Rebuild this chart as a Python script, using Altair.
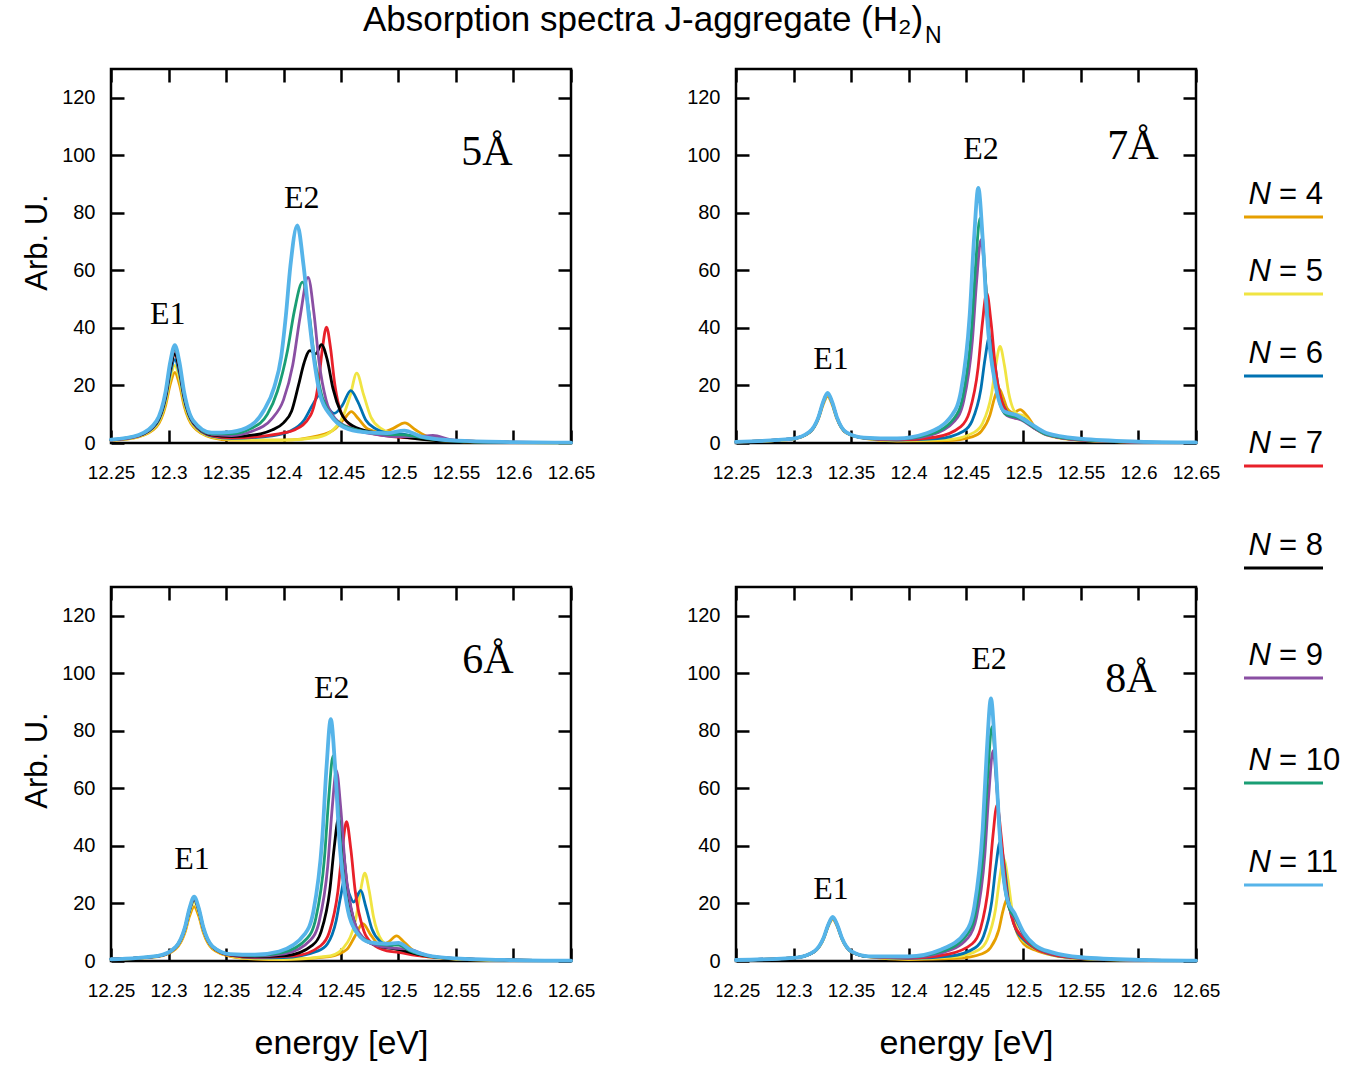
import altair as alt
import pandas as pd

SANS = "Liberation Sans"
SERIF = "Liberation Serif"

TITLE = "Absorption spectra J-aggregate (H\u2082)"
TITLE_SUB = "N"
Y_TITLE = "Arb. U."
X_TITLE = "energy [eV]"

N_LIST = [4, 5, 6, 7, 8, 9, 10, 11]
N_COLORS = ["#E69F00", "#F0E442", "#0072B2", "#E8202A", "#000000", "#8A4FA3", "#1A9E74", "#56B4E9"]
X_TICKS = [12.25, 12.3, 12.35, 12.4, 12.45, 12.5, 12.55, 12.6, 12.65]
Y_TICKS = [0, 20, 40, 60, 80, 100, 120]
PEAK_LABELS = ["E1", "E2"]

# ---------------- 5 Å ----------------
E1_X_5A = [12.25, 12.274, 12.2895, 12.2975, 12.3015, 12.3055, 12.3095, 12.3135, 12.3215, 12.3375]
E1_Y_5A = {
    11: [1.2, 2.8, 7.6, 17.9, 28.1, 34.0, 28.1, 17.9, 7.8, 3.6],
    10: [1.2, 2.7, 7.4, 17.4, 27.3, 33.0, 27.3, 17.4, 7.6, 3.2],
    9: [1.1, 2.7, 7.3, 17.2, 26.9, 32.5, 26.9, 17.2, 7.5, 3.0],
    8: [1.1, 2.6, 7.0, 16.4, 25.7, 31.0, 25.7, 16.4, 7.2, 2.8],
    7: [1.0, 2.5, 7.0, 16.4, 25.7, 31.0, 25.7, 16.4, 7.1, 2.6],
    6: [1.0, 2.4, 6.6, 15.4, 24.1, 29.0, 24.1, 15.4, 6.7, 2.4],
    5: [0.9, 2.2, 6.1, 14.3, 22.3, 27.0, 22.3, 14.3, 6.2, 2.1],
    4: [0.8, 2.1, 5.6, 13.1, 20.4, 24.5, 20.4, 13.1, 5.7, 1.9],
}
E2_X_5A = {
    11: [12.355, 12.372, 12.383, 12.392, 12.398, 12.402, 12.406, 12.412, 12.4175, 12.422, 12.4265, 12.432, 12.441, 12.4525, 12.47, 12.49, 12.505, 12.52, 12.55, 12.60, 12.65],
    10: [12.355, 12.3716, 12.386, 12.3947, 12.4034, 12.4095, 12.4165, 12.422, 12.4265, 12.4323, 12.441, 12.4496, 12.47, 12.49, 12.505, 12.525, 12.55, 12.60, 12.65],
    9: [12.355, 12.372, 12.39, 12.40, 12.408, 12.4145, 12.4214, 12.4265, 12.431, 12.437, 12.445, 12.46, 12.48, 12.50, 12.515, 12.53, 12.545, 12.57, 12.60, 12.65],
    8: [12.355, 12.38, 12.39, 12.40, 12.407, 12.413, 12.418, 12.423, 12.428, 12.433, 12.438, 12.443, 12.45, 12.46, 12.48, 12.50, 12.52, 12.55, 12.60, 12.65],
    7: [12.355, 12.38, 12.40, 12.4094, 12.4234, 12.4304, 12.4339, 12.4374, 12.4409, 12.4444, 12.4514, 12.4654, 12.49, 12.52, 12.55, 12.60, 12.65],
    6: [12.355, 12.39, 12.405, 12.418, 12.425, 12.431, 12.437, 12.444, 12.451, 12.4585, 12.4645, 12.4715, 12.48, 12.49, 12.505, 12.52, 12.55, 12.60, 12.65],
    5: [12.355, 12.40, 12.43, 12.443, 12.452, 12.458, 12.4637, 12.4695, 12.476, 12.485, 12.495, 12.51, 12.53, 12.56, 12.60, 12.65],
    4: [12.355, 12.40, 12.43, 12.445, 12.453, 12.459, 12.465, 12.473, 12.485, 12.495, 12.5055, 12.515, 12.525, 12.545, 12.60, 12.65],
}
E2_Y_5A = {
    11: [3.9, 6.2, 11.4, 19.5, 30.0, 44.0, 61.5, 75.6, 61.5, 44.3, 29.2, 16.5, 9.6, 5.5, 3.8, 3.4, 4.3, 2.2, 0.8, 0.3, 0.1],
    10: [3.2, 5.0, 10.0, 18.0, 32.0, 46.0, 55.9, 46.0, 31.0, 18.0, 10.0, 6.6, 4.0, 3.0, 2.8, 1.5, 0.7, 0.25, 0.1],
    9: [2.6, 4.0, 8.5, 15.0, 27.0, 44.0, 57.6, 45.0, 28.0, 15.0, 8.5, 5.0, 3.0, 2.2, 2.2, 2.6, 1.2, 0.5, 0.25, 0.1],
    8: [2.2, 3.2, 4.5, 7.0, 11.0, 20.0, 28.0, 32.1, 31.0, 34.2, 29.0, 19.0, 10.5, 6.0, 3.5, 2.3, 1.3, 0.5, 0.2, 0.1],
    7: [1.8, 2.3, 3.5, 4.5, 9.5, 21.0, 33.0, 40.3, 33.0, 21.0, 9.5, 4.5, 2.5, 1.5, 0.8, 0.3, 0.1],
    6: [1.6, 2.5, 4.0, 8.0, 13.0, 16.5, 13.2, 10.3, 13.0, 18.2, 14.5, 8.0, 5.0, 3.5, 3.0, 1.8, 0.7, 0.2, 0.1],
    5: [1.2, 1.0, 2.0, 4.5, 9.5, 16.5, 24.3, 17.0, 9.0, 5.0, 3.2, 2.0, 1.0, 0.4, 0.15, 0.05],
    4: [1.0, 1.0, 2.5, 5.0, 8.5, 10.9, 8.5, 5.0, 3.7, 5.0, 7.0, 4.5, 2.3, 1.0, 0.2, 0.05],
}
ANN_X_5A, ANN_Y_5A = [12.2994, 12.4159], [44.8, 85.1]
TAG_5A = ("5\u00c5", 12.5768, 101.1)

# ---------------- 7 Å ----------------
E1_X_7A = [12.25, 12.2982, 12.3137, 12.3217, 12.3257, 12.3297, 12.3337, 12.3377, 12.3457, 12.3612]
E1_Y_7A = {
    11: [0.4, 1.4, 3.8, 9.0, 14.2, 17.4, 14.2, 9.0, 3.8, 1.9],
    10: [0.4, 1.4, 3.7, 8.9, 14.0, 17.2, 14.0, 8.9, 3.7, 1.8],
    9: [0.4, 1.4, 3.7, 8.9, 14.0, 17.2, 14.0, 8.9, 3.7, 1.8],
    7: [0.4, 1.4, 3.7, 8.9, 14.0, 17.2, 14.0, 8.9, 3.7, 1.8],
    6: [0.4, 1.4, 3.7, 8.9, 14.0, 17.1, 14.0, 8.9, 3.7, 1.7],
    5: [0.4, 1.3, 3.6, 8.7, 13.7, 16.8, 13.7, 8.7, 3.6, 1.7],
    4: [0.35, 1.3, 3.5, 8.4, 13.2, 16.2, 13.2, 8.4, 3.5, 1.6],
}
E2_X_7A = {
    11: [12.39, 12.4157, 12.4382, 12.4457, 12.4532, 12.457, 12.4607, 12.4645, 12.4682, 12.4757, 12.4832, 12.495, 12.505, 12.52, 12.55, 12.60, 12.65],
    10: [12.39, 12.4172, 12.4397, 12.4472, 12.4547, 12.4585, 12.4622, 12.466, 12.4697, 12.4772, 12.4847, 12.497, 12.507, 12.52, 12.55, 12.60, 12.65],
    9: [12.39, 12.418, 12.4405, 12.448, 12.4555, 12.4593, 12.463, 12.4668, 12.4705, 12.478, 12.4855, 12.498, 12.508, 12.52, 12.55, 12.60, 12.65],
    7: [12.39, 12.423, 12.4455, 12.453, 12.4605, 12.4643, 12.468, 12.4718, 12.4755, 12.483, 12.4905, 12.50, 12.51, 12.525, 12.55, 12.60, 12.65],
    6: [12.39, 12.4253, 12.4478, 12.4553, 12.4628, 12.4666, 12.4703, 12.4741, 12.4778, 12.4853, 12.4928, 12.50, 12.51, 12.525, 12.55, 12.60, 12.65],
    5: [12.39, 12.4346, 12.4571, 12.4646, 12.4721, 12.4759, 12.4796, 12.4834, 12.4871, 12.4946, 12.50, 12.505, 12.512, 12.525, 12.55, 12.60, 12.65],
    4: [12.39, 12.4334, 12.4559, 12.4634, 12.4709, 12.4747, 12.4784, 12.4822, 12.4859, 12.4915, 12.497, 12.503, 12.51, 12.52, 12.55, 12.60, 12.65],
}
E2_Y_7A = {
    11: [1.6, 3.4, 9.9, 18.2, 44.4, 71.0, 88.7, 71.0, 44.4, 20.0, 11.0, 9.5, 7.0, 3.5, 1.5, 0.5, 0.2],
    10: [1.4, 2.9, 8.6, 16.1, 39.1, 62.6, 78.2, 62.6, 39.1, 17.5, 10.0, 8.5, 6.0, 3.0, 1.2, 0.4, 0.15],
    9: [1.3, 2.6, 7.8, 14.6, 35.4, 56.6, 70.7, 56.6, 35.4, 16.0, 9.5, 8.0, 5.5, 2.8, 1.1, 0.35, 0.1],
    7: [1.1, 2.0, 5.7, 10.8, 26.1, 41.8, 52.2, 41.8, 26.5, 12.5, 9.0, 8.0, 5.0, 2.5, 1.0, 0.3, 0.1],
    6: [1.0, 1.5, 4.1, 7.7, 18.4, 29.4, 36.8, 30.0, 20.0, 11.0, 9.0, 8.5, 5.0, 2.5, 1.0, 0.3, 0.1],
    5: [0.8, 1.2, 3.7, 7.0, 16.8, 26.9, 33.6, 27.0, 17.5, 10.0, 9.5, 7.5, 4.5, 2.2, 0.9, 0.3, 0.1],
    4: [0.7, 0.8, 2.2, 4.1, 9.8, 15.5, 19.1, 16.0, 12.0, 10.5, 11.6, 9.5, 5.5, 3.0, 1.0, 0.3, 0.1],
}
ANN_X_7A, ANN_Y_7A = [12.3326, 12.463], [29.1, 102.1]
TAG_7A = ("7\u00c5", 12.5952, 103.2)

# ---------------- 6 Å ----------------
E1_X_6A = [12.25, 12.2908, 12.3063, 12.3143, 12.3183, 12.3223, 12.3263, 12.3303, 12.3383, 12.3538]
E1_Y_6A = {
    11: [0.6, 1.8, 4.9, 11.7, 18.4, 22.4, 18.4, 11.7, 5.1, 2.4],
    10: [0.6, 1.8, 4.9, 11.6, 18.2, 22.2, 18.2, 11.6, 5.0, 2.3],
    9: [0.6, 1.7, 4.8, 11.5, 18.1, 22.0, 18.1, 11.5, 5.0, 2.2],
    8: [0.6, 1.7, 4.8, 11.4, 17.9, 21.8, 17.9, 11.4, 4.9, 2.1],
    7: [0.6, 1.7, 4.7, 11.3, 17.8, 21.6, 17.8, 11.3, 4.8, 2.0],
    6: [0.6, 1.7, 4.7, 11.1, 17.5, 21.3, 17.5, 11.1, 4.8, 2.0],
    5: [0.5, 1.6, 4.5, 10.7, 16.9, 20.5, 16.9, 10.7, 4.6, 1.8],
    4: [0.5, 1.5, 4.2, 9.9, 15.6, 18.9, 15.6, 9.9, 4.2, 1.6],
}
E2_X_6A = {
    11: [12.375, 12.3961, 12.4186, 12.4261, 12.4336, 12.4374, 12.4411, 12.4449, 12.4486, 12.4561, 12.4636, 12.475, 12.49, 12.50, 12.51, 12.525, 12.55, 12.60, 12.65],
    10: [12.375, 12.3981, 12.4206, 12.4281, 12.4356, 12.4394, 12.4431, 12.4469, 12.4506, 12.4581, 12.4656, 12.48, 12.49, 12.50, 12.51, 12.525, 12.55, 12.60, 12.65],
    9: [12.375, 12.401, 12.4235, 12.431, 12.4385, 12.4423, 12.446, 12.4498, 12.4535, 12.461, 12.4685, 12.48, 12.495, 12.51, 12.525, 12.55, 12.60, 12.65],
    8: [12.375, 12.4028, 12.4253, 12.4328, 12.4403, 12.4441, 12.4478, 12.4516, 12.4553, 12.4628, 12.4703, 12.485, 12.50, 12.515, 12.55, 12.60, 12.65],
    7: [12.375, 12.4098, 12.4323, 12.4398, 12.4473, 12.4511, 12.4548, 12.4586, 12.4623, 12.4698, 12.4773, 12.49, 12.50, 12.515, 12.55, 12.60, 12.65],
    6: [12.375, 12.40, 12.43, 12.4383, 12.4458, 12.4495, 12.4533, 12.457, 12.461, 12.4672, 12.4715, 12.477, 12.485, 12.495, 12.505, 12.52, 12.55, 12.60, 12.65],
    5: [12.375, 12.40, 12.4407, 12.4557, 12.4632, 12.467, 12.4707, 12.4745, 12.4782, 12.4857, 12.495, 12.505, 12.52, 12.55, 12.60, 12.65],
    4: [12.375, 12.40, 12.44, 12.455, 12.462, 12.469, 12.476, 12.484, 12.491, 12.4983, 12.505, 12.515, 12.53, 12.55, 12.60, 12.65],
}
E2_Y_6A = {
    11: [2.2, 3.3, 9.4, 17.4, 42.0, 67.3, 84.1, 67.3, 42.0, 17.4, 10.0, 6.5, 6.0, 6.3, 4.0, 2.0, 0.9, 0.3, 0.1],
    10: [1.9, 2.8, 7.9, 14.8, 35.7, 57.0, 71.3, 57.0, 35.7, 15.0, 9.0, 6.0, 5.5, 5.5, 3.5, 1.8, 0.8, 0.3, 0.1],
    9: [1.7, 2.5, 7.3, 13.7, 33.1, 53.0, 66.2, 53.0, 33.5, 14.5, 8.5, 5.5, 4.5, 4.0, 2.0, 0.9, 0.3, 0.1],
    8: [1.5, 1.9, 5.5, 10.3, 24.7, 39.5, 49.4, 40.0, 26.0, 12.0, 7.5, 5.0, 4.0, 2.5, 0.8, 0.3, 0.1],
    7: [1.3, 1.8, 5.3, 10.0, 24.2, 38.7, 48.4, 38.7, 24.5, 10.5, 6.0, 3.5, 3.0, 2.0, 0.8, 0.3, 0.1],
    6: [1.1, 1.2, 3.5, 6.0, 14.0, 22.0, 28.4, 23.5, 20.5, 24.5, 19.0, 11.0, 6.5, 4.5, 3.5, 2.0, 0.8, 0.3, 0.1],
    5: [0.8, 0.6, 1.8, 6.5, 15.3, 24.4, 30.5, 24.4, 15.5, 7.0, 4.5, 3.3, 1.8, 0.7, 0.2, 0.1],
    4: [0.7, 0.5, 1.5, 4.0, 8.5, 13.0, 9.0, 5.5, 6.5, 8.7, 6.5, 3.0, 1.5, 0.7, 0.2, 0.1],
}
ANN_X_6A, ANN_Y_6A = [12.3204, 12.442], [35.5, 94.9]
TAG_6A = ("6\u00c5", 12.5777, 104.6)

# ---------------- 8 Å ----------------
E1_X_8A = [12.25, 12.3026, 12.3181, 12.3261, 12.3301, 12.3341, 12.3381, 12.3421, 12.3501, 12.3656]
E1_Y_8A = {
    11: [0.35, 1.2, 3.4, 8.0, 12.5, 15.3, 12.5, 8.0, 3.4, 1.6],
    10: [0.35, 1.2, 3.3, 7.9, 12.4, 15.1, 12.4, 7.9, 3.3, 1.5],
    9: [0.35, 1.2, 3.3, 7.9, 12.4, 15.1, 12.4, 7.9, 3.3, 1.5],
    7: [0.35, 1.2, 3.3, 7.9, 12.4, 15.1, 12.4, 7.9, 3.3, 1.5],
    6: [0.35, 1.2, 3.3, 7.9, 12.4, 15.1, 12.4, 7.9, 3.3, 1.5],
    5: [0.3, 1.2, 3.3, 7.7, 12.1, 14.8, 12.1, 7.7, 3.3, 1.5],
    4: [0.3, 1.2, 3.2, 7.6, 11.9, 14.5, 11.9, 7.6, 3.2, 1.4],
}
E2_X_8A = {
    11: [12.40, 12.4285, 12.4501, 12.4573, 12.4645, 12.4681, 12.4717, 12.4753, 12.4789, 12.4861, 12.492, 12.50, 12.51, 12.525, 12.55, 12.60, 12.65],
    10: [12.40, 12.4294, 12.451, 12.4582, 12.4654, 12.469, 12.4726, 12.4762, 12.4798, 12.487, 12.493, 12.50, 12.51, 12.525, 12.55, 12.60, 12.65],
    9: [12.40, 12.4303, 12.4519, 12.4591, 12.4663, 12.4699, 12.4735, 12.4771, 12.4807, 12.4879, 12.494, 12.50, 12.51, 12.525, 12.55, 12.60, 12.65],
    7: [12.40, 12.4338, 12.4554, 12.4626, 12.4698, 12.4734, 12.477, 12.4806, 12.4842, 12.4914, 12.50, 12.51, 12.525, 12.55, 12.60, 12.65],
    6: [12.40, 12.4364, 12.458, 12.4652, 12.4724, 12.476, 12.4796, 12.4832, 12.4868, 12.494, 12.50, 12.51, 12.525, 12.55, 12.60, 12.65],
    5: [12.40, 12.4396, 12.4612, 12.4684, 12.4756, 12.4792, 12.4828, 12.4864, 12.49, 12.4972, 12.505, 12.515, 12.53, 12.55, 12.60, 12.65],
    4: [12.40, 12.4425, 12.4641, 12.4713, 12.4785, 12.4821, 12.4857, 12.4893, 12.4929, 12.5001, 12.51, 12.525, 12.55, 12.60, 12.65],
}
E2_Y_8A = {
    11: [1.6, 4.0, 10.3, 19.0, 45.7, 73.0, 91.3, 73.0, 46.5, 21.0, 16.7, 10.0, 5.5, 3.0, 1.3, 0.4, 0.15],
    10: [1.4, 3.4, 9.2, 16.9, 40.8, 65.2, 81.5, 65.2, 41.5, 19.0, 15.0, 9.5, 5.0, 2.8, 1.2, 0.4, 0.15],
    9: [1.3, 3.0, 8.1, 15.1, 36.6, 58.5, 73.1, 58.5, 37.5, 18.0, 14.0, 9.0, 5.0, 2.6, 1.1, 0.35, 0.1],
    7: [1.0, 2.3, 6.0, 11.2, 27.1, 43.4, 54.2, 43.4, 28.0, 13.0, 8.0, 4.5, 2.3, 1.0, 0.3, 0.1],
    6: [0.9, 1.7, 4.6, 8.6, 20.7, 33.0, 41.3, 33.5, 21.5, 10.5, 7.5, 4.5, 2.2, 0.9, 0.3, 0.1],
    5: [0.7, 1.4, 3.9, 7.4, 17.8, 28.4, 35.5, 28.5, 18.0, 8.5, 5.5, 3.5, 1.8, 0.8, 0.25, 0.1],
    4: [0.5, 0.9, 2.5, 4.6, 10.8, 17.3, 21.6, 17.5, 11.5, 6.0, 3.8, 2.0, 0.8, 0.25, 0.1],
}
ANN_X_8A, ANN_Y_8A = [12.3326, 12.470], [25.0, 105.0]
TAG_8A = ("8\u00c5", 12.5935, 98.1)

# ---------------- styling ----------------
W, H = 460, 374
LEGEND_ROW_Y = [126, 203, 285, 375, 477, 587, 692, 794]

XS = alt.Scale(domain=[12.25, 12.65], nice=False, zero=False)
YS = alt.Scale(domain=[0, 130], nice=False, zero=False)
CS = alt.Scale(domain=N_LIST, range=N_COLORS)


def spectra_frame(e1_x, e1_y, e2_x, e2_y):
    rows = []
    for n in N_LIST:
        if n not in e1_y:
            continue
        xs = e1_x + e2_x[n]
        ys = e1_y[n] + e2_y[n]
        assert len(xs) == len(ys), (n, len(xs), len(ys))
        for k, (x, y) in enumerate(zip(xs, ys)):
            rows.append({"N": n, "energy": x, "value": y, "k": k})
    return pd.DataFrame(rows)


def build_panel(e1_x, e1_y, e2_x, e2_y, ann_x, ann_y, tag, y_title, x_title, extras=None):
    df = spectra_frame(e1_x, e1_y, e2_x, e2_y)
    x_axis = alt.Axis(orient="bottom", values=X_TICKS, format=".4~g",
                      title=X_TITLE if x_title else None)
    y_axis = alt.Axis(orient="left", values=Y_TICKS, format="d",
                      title=Y_TITLE if y_title else None)
    lines = alt.Chart(df).mark_line(interpolate="monotone", strokeJoin="round", strokeCap="round").encode(
        x=alt.X("energy:Q", scale=XS, axis=x_axis),
        y=alt.Y("value:Q", scale=YS, axis=y_axis),
        color=alt.Color("N:O", scale=CS, legend=None),
        strokeWidth=alt.condition(alt.datum.N == 11, alt.value(3.8), alt.value(2.8)),
        order=alt.Order("k:Q"),
    )
    ann_df = pd.DataFrame({"label": PEAK_LABELS, "x": ann_x, "y": ann_y})
    peaks = alt.Chart(ann_df).mark_text(font=SERIF, fontSize=32, color="black", baseline="middle").encode(
        x=alt.X("x:Q", scale=XS, axis=alt.Axis(orient="top", values=X_TICKS, labels=False, title=None)),
        y=alt.Y("y:Q", scale=YS, axis=alt.Axis(orient="right", values=Y_TICKS, labels=False, title=None)),
        text="label:N",
    )
    tag_df = pd.DataFrame({"label": [tag[0]], "x": [tag[1]], "y": [tag[2]]})
    tag_mark = alt.Chart(tag_df).mark_text(font=SERIF, fontSize=42, color="black", baseline="middle").encode(
        x=alt.X("x:Q", scale=XS, axis=None),
        y=alt.Y("y:Q", scale=YS, axis=None),
        text="label:N",
    )
    layers = [lines, peaks, tag_mark] + (extras or [])
    ch = alt.layer(*layers).resolve_axis(x="independent", y="independent")
    if extras:
        ch = ch.resolve_scale(y="independent")
    return ch.properties(width=W, height=H)


# legend (drawn next to the upper-right panel)
leg_df = pd.DataFrame({"N": N_LIST, "slot": list(range(len(N_LIST))),
                       "rest": ["= %d" % n for n in N_LIST]})
leg_y = alt.Y("slot:Q", scale=alt.Scale(domain=list(range(len(N_LIST))), range=LEGEND_ROW_Y,
                                        nice=False, zero=False), axis=None)
leg_n = alt.Chart(leg_df).mark_text(font=SANS, fontSize=31, fontStyle="italic", align="right",
                                    baseline="middle", color="black").encode(
    x=alt.value(535), y=leg_y, text=alt.value("N"))
leg_rest = alt.Chart(leg_df).mark_text(font=SANS, fontSize=31, align="left",
                                       baseline="middle", color="black").encode(
    x=alt.value(543), y=leg_y, text="rest:N")
leg_line = alt.Chart(leg_df).mark_rule(strokeWidth=3, yOffset=22).encode(
    x=alt.value(508), x2=alt.value(587), y=leg_y,
    color=alt.Color("N:O", scale=CS, legend=None))
sub_n = alt.Chart(pd.DataFrame({"t": [TITLE_SUB]})).mark_text(
    font=SANS, fontSize=23, align="left", baseline="alphabetic", color="black").encode(
    x=alt.value(189), y=alt.value(-26), text="t:N")

pA = build_panel(E1_X_5A, E1_Y_5A, E2_X_5A, E2_Y_5A, ANN_X_5A, ANN_Y_5A, TAG_5A, True, False)
pB = build_panel(E1_X_7A, E1_Y_7A, E2_X_7A, E2_Y_7A, ANN_X_7A, ANN_Y_7A, TAG_7A, False, False,
                 extras=[leg_line, leg_n, leg_rest, sub_n])
pC = build_panel(E1_X_6A, E1_Y_6A, E2_X_6A, E2_Y_6A, ANN_X_6A, ANN_Y_6A, TAG_6A, True, True)
pD = build_panel(E1_X_8A, E1_Y_8A, E2_X_8A, E2_Y_8A, ANN_X_8A, ANN_Y_8A, TAG_8A, False, True)

chart = alt.concat(
    pA, pB, pC, pD, columns=2, spacing={"row": 144, "column": 165}, bounds="flush"
).properties(
    title=alt.TitleParams(TITLE, font=SANS, fontSize=35, fontWeight="normal", color="black",
                          anchor="start", frame="group", dx=252, offset=-14),
    padding={"left": 20, "top": 2, "right": 5, "bottom": 3},
).configure_view(
    stroke="black", strokeWidth=2.5
).configure_axis(
    domain=False, grid=False, ticks=True, tickColor="black", tickWidth=2.5, tickSize=13, offset=-13,
    labelFont=SANS, labelColor="black", labelFlush=False, labelOverlap=False,
    titleFont=SANS, titleFontWeight="normal", titleColor="black",
).configure_axisX(
    labelPadding=20, titlePadding=26, labelFontSize=19, titleFontSize=34
).configure_axisY(
    labelPadding=16, titlePadding=8, labelFontSize=20, titleFontSize=31, titleY=173
)

chart.save("out.html", embed_options={"renderer": "svg", "actions": False})
